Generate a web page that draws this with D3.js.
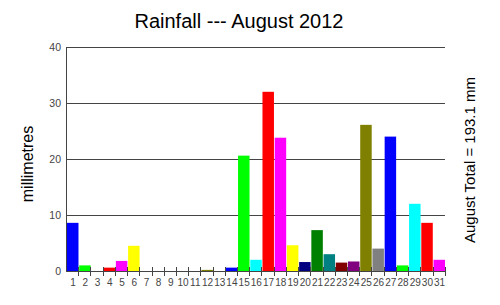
<!DOCTYPE html>
<html>
<head>
<meta charset="utf-8">
<script src="https://cdn.jsdelivr.net/npm/d3@7"></script>
<style>
  body { margin: 0; background: #fff; }
  svg { display: block; font-family: "Liberation Sans", Arial, sans-serif; }
</style>
</head>
<body>
<div id="chart"></div>
<script>
// rainfall per day, mm
var days = d3.range(1, 32);
var rain = [8.6, 1.0, 0, 0.6, 1.8, 4.5, 0, 0, 0, 0, 0, 0.2, 0, 0.6, 20.6, 2.0,
            32.0, 23.8, 4.6, 1.6, 7.3, 3.0, 1.5, 1.7, 26.1, 4.0, 24.0, 1.0, 12.0, 8.6, 2.0];
var yTicks = [0, 10, 20, 30, 40];
var palette = ["#0000ff", "#00ff00", "#00ffff", "#ff0000", "#ff00ff", "#ffff00", "#000080",
               "#008000", "#008080", "#800000", "#800080", "#808000", "#808080"];
var title = "Rainfall --- August 2012";
var yTitle = "millimetres";
var total = d3.sum(rain);

var w = 500, h = 305;
var margin = {top: 47, right: 55, bottom: 34, left: 67};

var svg = d3.select("#chart").append("svg")
    .attr("width", w)
    .attr("height", h);

var x = d3.scaleBand()
    .domain(days)
    .range([margin.left, w - margin.right])
    .paddingInner(0.06)
    .paddingOuter(0);

var y = d3.scaleLinear()
    .domain([0, 40])
    .range([h - margin.bottom, margin.top]);

var step = x.step();

// gridlines
svg.append("g")
    .selectAll("line")
    .data(yTicks)
    .enter()
    .append("line")
    .attr("x1", margin.left)
    .attr("x2", w - margin.right)
    .attr("y1", function(d) { return Math.round(y(d)) + 0.5; })
    .attr("y2", function(d) { return Math.round(y(d)) + 0.5; })
    .attr("stroke", "#444")
    .attr("stroke-width", 1);

// y labels
svg.append("g")
    .selectAll("text")
    .data(yTicks)
    .enter()
    .append("text")
    .attr("x", margin.left - 6)
    .attr("y", function(d) { return y(d) + 3.5; })
    .attr("text-anchor", "end")
    .attr("font-size", "10.5px")
    .attr("fill", "#444")
    .text(function(d) { return d; });

// bars
svg.append("g")
    .selectAll("rect")
    .data(rain)
    .enter()
    .append("rect")
    .attr("x", function(d, i) { return x(days[i]); })
    .attr("y", function(d) { return y(d); })
    .attr("width", x.bandwidth())
    .attr("height", function(d) { return y(0) - y(d); })
    .attr("fill", function(d, i) { return palette[i % palette.length]; });

// axis lines
svg.append("line")
    .attr("x1", margin.left - 0.5).attr("x2", margin.left - 0.5)
    .attr("y1", y(40)).attr("y2", y(0) + 1)
    .attr("stroke", "#444");
svg.append("line")
    .attr("x1", margin.left).attr("x2", w - margin.right)
    .attr("y1", Math.round(y(0)) + 0.5).attr("y2", Math.round(y(0)) + 0.5)
    .attr("stroke", "#444");

// x ticks at day boundaries
svg.append("g")
    .selectAll("line")
    .data(days)
    .enter()
    .append("line")
    .attr("x1", function(d) { return Math.round(x(d) + step) - 0.5; })
    .attr("x2", function(d) { return Math.round(x(d) + step) - 0.5; })
    .attr("y1", y(0) - 4)
    .attr("y2", y(0) + 5)
    .attr("stroke", "#444");

// x labels
svg.append("g")
    .selectAll("text")
    .data(days)
    .enter()
    .append("text")
    .attr("x", function(d) { return x(d) + step / 2; })
    .attr("y", y(0) + 14.5)
    .attr("text-anchor", "middle")
    .attr("font-size", "10px")
    .attr("fill", "#444")
    .text(function(d) { return d; });

svg.append("text")
    .attr("x", 239)
    .attr("y", 28)
    .attr("text-anchor", "middle")
    .attr("font-size", "20px")
    .attr("fill", "#000")
    .text(title);

svg.append("text")
    .attr("transform", "translate(33,164) rotate(-90)")
    .attr("text-anchor", "middle")
    .attr("font-size", "16px")
    .attr("fill", "#000")
    .text(yTitle);

svg.append("text")
    .attr("transform", "translate(475,160) rotate(-90)")
    .attr("text-anchor", "middle")
    .attr("font-size", "15px")
    .attr("fill", "#000")
    .text("August Total = " + total.toFixed(1) + " mm");
</script>
</body>
</html>
